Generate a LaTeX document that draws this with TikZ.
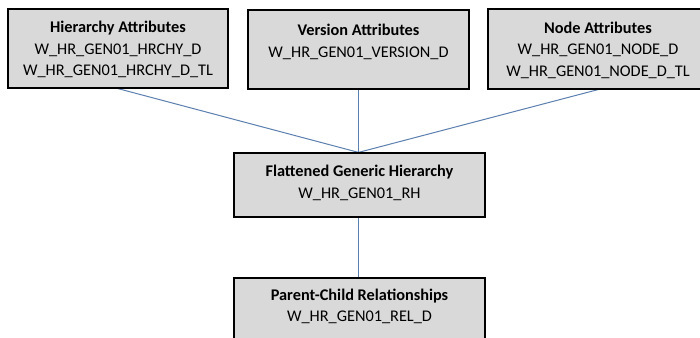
\documentclass[tikz,border=0pt]{standalone}
\usepackage{fontspec}
\setmainfont{Carlito}
\usetikzlibrary{calc,backgrounds}
\begin{document}
\begin{tikzpicture}[x=1pt,y=-1pt,
  box/.style={draw=black, line width=1.2pt, fill=boxgray, inner sep=0pt},
  txt/.style={font=\fontsize{16.3}{21.7}\selectfont, text=black, align=center, inner sep=0pt, anchor=north},
  conn/.style={draw=linkblue, line width=1pt}]
\definecolor{boxgray}{HTML}{D9D9D9}
\definecolor{linkblue}{HTML}{5B7FAE}
\useasboundingbox (0,0) rectangle (700,337);
\clip (0,0) rectangle (700,337);
% boxes
\node[box, minimum width=220pt, minimum height=79pt] (h) at (118,48.5) {};
\node[box, minimum width=221pt, minimum height=79pt] (v) at (358.5,49.5) {};
\node[box, minimum width=220pt, minimum height=80pt] (n) at (598,49) {};
\node[box, minimum width=251pt, minimum height=64pt] (f) at (359.5,185) {};
\node[box, minimum width=251pt, minimum height=80pt] (p) at (359.5,318) {};
% texts
\node[txt] (ht) at ($(h.north)+(0,12.5)$) {\textbf{Hierarchy Attributes}\\W\_HR\_GEN01\_HRCHY\_D\\W\_HR\_GEN01\_HRCHY\_D\_TL};
\node[txt] (vt) at ($(v.north)+(0,14.5)$) {\textbf{Version Attributes}\\W\_HR\_GEN01\_VERSION\_D};
\node[txt] (nt) at ($(n.north)+(0,13)$) {\textbf{Node Attributes}\\W\_HR\_GEN01\_NODE\_D\\W\_HR\_GEN01\_NODE\_D\_TL};
\node[txt] (ft) at ($(f.north)+(0,12.5)$) {\textbf{Flattened Generic Hierarchy}\\W\_HR\_GEN01\_RH};
\node[txt] (pt) at ($(p.north)+(0,11)$) {\textbf{Parent-Child Relationships}\\W\_HR\_GEN01\_REL\_D};
% connectors
\coordinate (fin) at ($(f.north)+(-1,0)$);
\coordinate (fout) at ($(f.south)+(-1,0)$);
\begin{scope}[on background layer]
\fill[white] (0,0) rectangle (700,337);
\draw[conn] (h.south) -- (fin);
\draw[conn] (v.south) -- (fin);
\draw[conn] (n.south) -- (fin);
\draw[conn] (fout) -- (fout |- p.north);
\end{scope}
\end{tikzpicture}
\end{document}
